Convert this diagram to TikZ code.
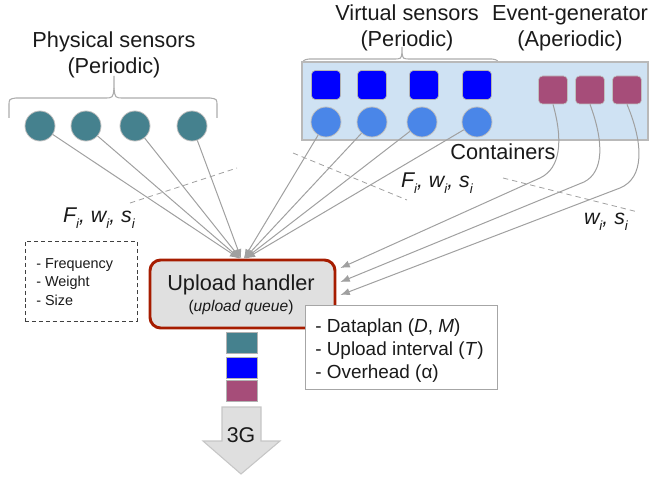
\documentclass[tikz,border=0pt]{standalone}
\usepackage{fontspec}
\setmainfont{Liberation Sans}
\usetikzlibrary{arrows.meta}

\definecolor{sensTeal}{HTML}{45818E}
\definecolor{sensBlue}{HTML}{0000FF}
\definecolor{sensLight}{HTML}{4A86E8}
\definecolor{evMag}{HTML}{A64D79}
\definecolor{contFill}{HTML}{CFE2F3}
\definecolor{uhFill}{HTML}{E0E0E0}
\definecolor{uhRed}{HTML}{A61C00}
\definecolor{lineGray}{HTML}{A0A0A0}
\definecolor{txt}{HTML}{1A1A1A}

% lowered italic index for F_i, w_i, s_i
\newcommand\lowidx[1]{\raisebox{-0.5ex}{\fontsize{10}{10}\selectfont #1}}

\begin{document}
\begin{tikzpicture}[x=0.75pt,y=-0.75pt,
  conn/.style={draw=lineGray, line width=0.75pt, -{Latex[length=7pt,width=5.5pt]}},
  psens/.style={circle, draw=gray!50, fill=sensTeal, minimum size=22.5pt, inner sep=0pt, line width=0.6pt},
  lsens/.style={circle, draw=gray!50, fill=sensLight, minimum size=22.5pt, inner sep=0pt, line width=0.6pt},
  vsq/.style={rectangle, rounded corners=3pt, draw=gray!60, fill=sensBlue, minimum size=21.75pt, inner sep=0pt, line width=0.5pt},
  esq/.style={rectangle, rounded corners=3pt, draw=gray!50, fill=evMag, minimum width=21.75pt, minimum height=21pt, inner sep=0pt, line width=0.5pt},
  qsq/.style={rectangle, draw=gray!60, minimum width=23.25pt, minimum height=15.75pt, inner sep=0pt, line width=0.5pt},
  title/.style={font=\fontsize{16.3}{19.5}\selectfont, text=txt, align=center, inner sep=0pt},
  bracket/.style={draw=gray!65, line width=0.8pt},
  sep/.style={draw=lineGray, dash pattern=on 4pt off 3pt, line width=0.6pt},
  lbl/.style={font=\fontsize{16}{18}\selectfont\itshape, text=txt, inner sep=0pt}
]
\useasboundingbox (0,0) rectangle (651,478);

% ---------- titles ----------
\node[title] (tphys) at (114,55) {Physical sensors\\(Periodic)};
\node[title] (tvirt) at (407,28) {Virtual sensors\\(Periodic)};
\node[title] (tevt)  at (570,28) {Event-generator\\(Aperiodic)};

% ---------- brackets ----------
\draw[bracket] (9,118) -- (9,106) .. controls (9,99) .. (16,98) -- (104,98)
  .. controls (113,98) .. (114,88) -- (114,76);
\draw[bracket] (217,118) -- (217,106) .. controls (217,99) .. (210,98) -- (124,98)
  .. controls (115,98) .. (114,88);
\draw[bracket] (303,75) -- (303,66) .. controls (303,60) .. (309,59) -- (393,59)
  .. controls (401,59) .. (402,53) -- (402,47);
\draw[bracket] (498,75) -- (498,66) .. controls (498,60) .. (492,59) -- (411,59)
  .. controls (403,59) .. (402,53);

% ---------- physical sensors ----------
\node[psens] (p1) at (40,126) {};
\node[psens] (p2) at (86,126) {};
\node[psens] (p3) at (135,126) {};
\node[psens] (p4) at (192,126) {};

% ---------- containers ----------
\node[rectangle, draw=gray!55, fill=contFill, minimum width=259.5pt, minimum height=58.5pt,
      inner sep=0pt, line width=0.8pt] (cont) at (475,101) {};
\node[vsq] (b1) at (326,85) {};
\node[vsq] (b2) at (372,85) {};
\node[vsq] (b3) at (424,85) {};
\node[vsq] (b4) at (477,85) {};
\node[lsens] (v1) at (326,122) {};
\node[lsens] (v2) at (372,122) {};
\node[lsens] (v3) at (422,122) {};
\node[lsens] (v4) at (477,122) {};
\node[esq] (m1) at (553,90) {};
\node[esq] (m2) at (590,90) {};
\node[esq] (m3) at (627,90) {};
\node[title] (tcont) at (503,152) {Containers};

% ---------- upload handler ----------
\node[rectangle, rounded corners=8pt, draw=uhRed, fill=uhFill, line width=2.2pt,
      minimum width=138.75pt, minimum height=51pt, inner sep=0pt] (uh) at (242.5,294) {};
\node[font=\fontsize{16.3}{19}\selectfont, text=txt, inner sep=0pt] (uhname) at (241,285) {Upload handler};
\node[font=\fontsize{11.7}{14}\selectfont, text=txt, inner sep=0pt] (uhsub) at (241,307) {(\textit{upload queue})};

% ---------- attribute legend ----------
\node[rectangle, draw=black!75, dash pattern=on 3pt off 2.2pt, line width=0.7pt,
      minimum width=84pt, minimum height=60pt, inner sep=0pt] (attr) at (81,281) {};
\node[anchor=west, align=left, font=\fontsize{10.8}{13.9}\selectfont, text=txt, inner sep=0pt]
  (attrtext) at (36,282) {- Frequency\\- Weight\\- Size};

% ---------- separators and labels ----------
\coordinate (sl1) at (130,203); \coordinate (sl2) at (237,168);
\coordinate (sm1) at (293,153); \coordinate (sm2) at (407,200);
\coordinate (sr1) at (503,178); \coordinate (sr2) at (638,212);
\draw[sep] (sl1) -- (sl2);
\draw[sep] (sm1) -- (sm2);
\draw[sep] (sr1) -- (sr2);
\node[lbl] (lfl) at (99,218) {F\lowidx{i}, w\lowidx{i}, s\lowidx{i}};
\node[lbl] (lfm) at (437,183) {F\lowidx{i}, w\lowidx{i}, s\lowidx{i}};
\node[lbl] (lfr) at (606,222) {w\lowidx{i}, s\lowidx{i}};

% ---------- connectors into the handler ----------
\draw[conn] (p1) -- ([xshift=-2.5pt]uh.north);
\draw[conn] (p2) -- ([xshift=-2pt]uh.north);
\draw[conn] (p3) -- ([xshift=-1.5pt]uh.north);
\draw[conn] (p4) -- ([xshift=-1pt]uh.north);
\draw[conn] (v1) -- ([xshift=1pt]uh.north);
\draw[conn] (v2) -- ([xshift=1.5pt]uh.north);
\draw[conn] (v3) -- ([xshift=2pt]uh.north);
\draw[conn] (v4) -- ([xshift=2.5pt]uh.north);

\draw[conn] (m1.south) .. controls (563,140) and (561,168) .. (540,178)
  -- ([xshift=3pt,yshift=19.5pt]uh.east);
\draw[conn] (m2.south) .. controls (604,142) and (604,172) .. (584,182)
  -- ([xshift=3pt,yshift=9pt]uh.east);
\draw[conn] (m3.south) .. controls (644,145) and (644,178) .. (620,188)
  -- ([xshift=3pt,yshift=-0.75pt]uh.east);

% ---------- parameters ----------
\node[rectangle, draw=gray!70, fill=white, line width=0.7pt,
      minimum width=144pt, minimum height=63pt, inner sep=0pt] (par) at (401,347) {};
\node[anchor=west, align=left, font=\fontsize{14.2}{17.25}\selectfont, text=txt, inner sep=0pt]
  (partext) at (315,351) {- Dataplan (\textit{D}, \textit{M})\\- Upload interval (\textit{T})\\- Overhead (α)};

% ---------- queue and uplink ----------
\node[qsq, fill=sensTeal] (q1) at (241.5,342.5) {};
\node[qsq, fill=sensBlue] (q2) at (241.5,367.5) {};
\node[qsq, fill=evMag]    (q3) at (241.5,391) {};
\draw[draw=gray!45, fill=gray!25, line width=0.8pt]
  (222,407) -- (261,407) -- (261,441) -- (280,441) -- (241,474) -- (203,441) -- (222,441) -- cycle;
\node[font=\fontsize{16}{18}\selectfont, text=txt, inner sep=0pt] (g3) at (241,435) {3G};
\end{tikzpicture}
\end{document}
